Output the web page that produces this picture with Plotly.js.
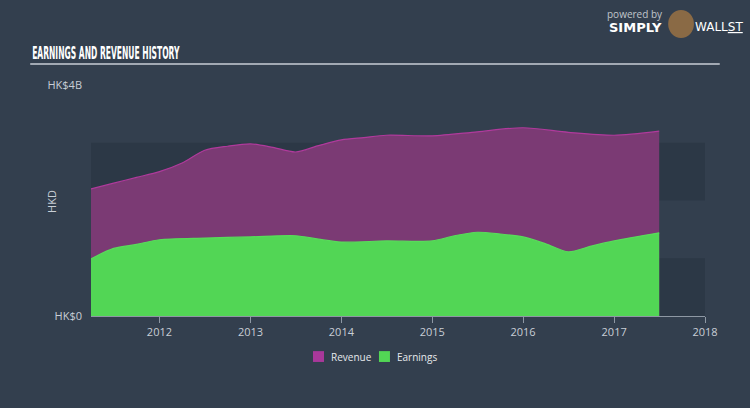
<!DOCTYPE html>
<html><head><meta charset="utf-8">
<script src="https://cdn.plot.ly/plotly-3.0.1.min.js"></script>
<style>html,body{margin:0;padding:0;background:#333f4e;}#c{width:750px;height:408px;}</style>
</head><body><div id="c"></div>
<script>
const revenueDates = ['2011-04-01','2011-07-01','2011-10-01','2012-01-01','2012-04-01','2012-07-01','2012-10-01','2013-01-01','2013-04-01','2013-07-01','2013-10-01','2014-01-01','2014-04-01','2014-07-01','2015-01-01','2015-07-01','2016-01-01','2016-07-01','2017-01-01','2017-07-01'];
const revenueValues = [2.20,2.30,2.40,2.50,2.65,2.87,2.94,2.98,2.92,2.84,2.95,3.05,3.09,3.13,3.12,3.19,3.26,3.18,3.13,3.20];
const earningsDates = ['2011-04-01','2011-07-01','2011-10-01','2012-01-01','2012-07-01','2013-01-01','2013-07-01','2013-10-01','2014-01-01','2014-07-01','2015-01-01','2015-04-01','2015-07-01','2015-10-01','2016-01-01','2016-04-01','2016-07-01','2016-10-01','2017-01-01','2017-07-01'];
const earningsValues = [0.99,1.17,1.24,1.32,1.35,1.37,1.39,1.33,1.28,1.30,1.30,1.39,1.45,1.42,1.37,1.25,1.11,1.21,1.30,1.44];
const xTickVals = ['2012-01-01','2013-01-01','2014-01-01','2015-01-01','2016-01-01','2017-01-01','2018-01-01'];
const xTickText = ['2012','2013','2014','2015','2016','2017','2018'];
const yTickVals = [0,4];
const yTickText = ['HK$0','HK$4B'];
const seriesNames = ['Revenue','Earnings'];
const seriesColors = ['#a8389a','#52d655'];
const chartTitle = 'EARNINGS AND REVENUE HISTORY';

const txt = '#c8ced6';
const traces = [
  {x: revenueDates, y: revenueValues, type:'scatter', mode:'lines', fill:'tozeroy', name: seriesNames[0],
   line:{color:'#b03a9c', width:1.2, shape:'spline', smoothing:0.8}, fillcolor:'#7b3a74', showlegend:false, hoverinfo:'skip'},
  {x: earningsDates, y: earningsValues, type:'scatter', mode:'lines', fill:'tozeroy', name: seriesNames[1],
   line:{color:'#58dc5a', width:1.2, shape:'spline', smoothing:0.8}, fillcolor:'#52d655', showlegend:false, hoverinfo:'skip'}
];

const legendX = [0.3616, 0.469];
const legendShapes = legendX.map((x0, i) => ({type:'rect', xref:'paper', yref:'paper', x0:x0, x1:x0+0.0179, y0:-0.152, y1:-0.199,
  fillcolor: seriesColors[i], line:{width:0}}));
const legendAnns = legendX.map((x0, i) => ({text: seriesNames[i], xref:'paper', yref:'paper', x:x0+0.026, y:-0.1755,
  xanchor:'left', yanchor:'middle', showarrow:false, font:{size:10, color:'#e6e9ec'}}));

const layout = {
  width:750, height:408,
  margin:{l:91, r:45, t:85, b:92},
  paper_bgcolor:'#333f4e', plot_bgcolor:'rgba(0,0,0,0)',
  font:{family:'"Open Sans", "DejaVu Sans", sans-serif', color:txt, size:11},
  showlegend:false,
  xaxis:{type:'date', range:['2011-04-01','2018-01-01'], tickvals:xTickVals, ticktext:xTickText,
    showgrid:false, zeroline:false, showline:true, linecolor:'#8e98a4', linewidth:1,
    ticks:'outside', ticklen:6, tickcolor:'#8e98a4', tickfont:{size:11, color:txt}, fixedrange:true},
  yaxis:{range:[0,4], tickvals:yTickVals, ticktext:yTickText, showgrid:false, zeroline:false,
    showline:false, ticks:'', ticklabelstandoff:8, tickfont:{size:11, color:txt}, fixedrange:true},
  shapes:[
    {type:'rect', xref:'paper', yref:'y', x0:0, x1:1, y0:0, y1:1, fillcolor:'#2c3846', line:{width:0}, layer:'below'},
    {type:'rect', xref:'paper', yref:'y', x0:0, x1:1, y0:2, y1:3, fillcolor:'#2c3846', line:{width:0}, layer:'below'},
    {type:'line', xref:'paper', yref:'paper', x0:-0.099, x1:1.024, y0:1.091, y1:1.091, line:{color:'#c8ced6', width:1.5}},
    {type:'circle', xref:'paper', yref:'paper', x0:0.940, x1:0.982, y0:1.203, y1:1.325, fillcolor:'#8a6a45', line:{width:0}}
  ].concat(legendShapes),
  annotations:[
    {text:'<span style="font-stretch:condensed;font-weight:bold">' + chartTitle + '</span>', xref:'paper', yref:'paper', x:-0.099, y:1.139, xanchor:'left', yanchor:'middle', showarrow:false,
     font:{family:'"DejaVu Sans", sans-serif', size:17, color:'#ffffff'}},
    {text:'HKD', xref:'paper', yref:'paper', x:-0.0635, y:0.494, xanchor:'center', yanchor:'middle', textangle:-90, showarrow:false, font:{size:11, color:txt}},
    {text:'powered by', xref:'paper', yref:'paper', x:0.886, y:1.307, xanchor:'center', yanchor:'middle', showarrow:false, font:{size:10, color:'#c0c6cc'}},
    {text:'<b>SIMPLY</b>', xref:'paper', yref:'paper', x:0.840, y:1.251, xanchor:'left', yanchor:'middle', showarrow:false, font:{family:'"DejaVu Sans", sans-serif', size:13, color:'#ffffff'}},
    {text:'WALL<u>ST</u>', xref:'paper', yref:'paper', x:1.065, y:1.251, xanchor:'right', yanchor:'middle', showarrow:false, font:{family:'"DejaVu Sans", sans-serif', size:12, color:'#ffffff'}}
  ].concat(legendAnns)
};
Plotly.newPlot('c', traces, layout, {displayModeBar:false, staticPlot:true}).then(function(gd){
  // narrow the title horizontally to mimic the condensed display face of the original
  gd.querySelectorAll('text.annotation-text').forEach(function(t){
    if (t.textContent === chartTitle) {
      const w = t.getBBox().width;
      const target = 148;
      if (w > target) {
        t.style.transformBox = 'fill-box';
        t.style.transformOrigin = 'left center';
        t.style.transform = 'scaleX(' + (target / w).toFixed(3) + ')';
      }
    }
  });
});
</script></body></html>
